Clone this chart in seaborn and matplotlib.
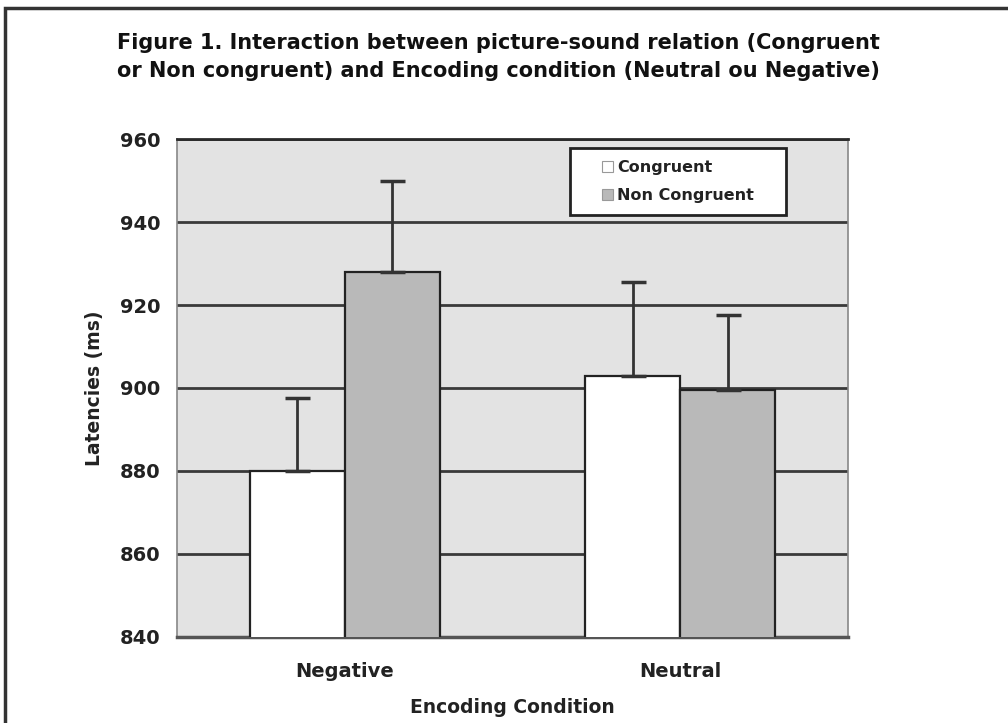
import matplotlib
matplotlib.use("Agg")
import matplotlib.pyplot as plt
import seaborn as sns
import pandas as pd
from matplotlib.patches import Rectangle

conditions = ["Negative", "Neutral"]
relations = ["Congruent", "Non Congruent"]
congruent_means = [880, 903]
noncongruent_means = [928, 899.5]
congruent_err = [17.5, 22.5]
noncongruent_err = [22, 18]

df = pd.DataFrame({
    "Encoding Condition": conditions * 2,
    "Relation": [relations[0]] * 2 + [relations[1]] * 2,
    "Latency": congruent_means + noncongruent_means,
    "Err": congruent_err + noncongruent_err,
})

sns.set_theme(style="white")
plt.rcParams["font.family"] = ["DejaVu Sans"]

fig = plt.figure(figsize=(10.08, 7.23), dpi=100)
ax = fig.add_axes([0.1756, 0.119, 0.6657, 0.6887])
ax.set_facecolor("#e3e3e3")

palette = {relations[0]: "#ffffff", relations[1]: "#b9b9b9"}
sns.barplot(data=df, x="Encoding Condition", y="Latency", hue="Relation",
            order=conditions, hue_order=relations, palette=palette,
            width=0.567, edgecolor="#222222", linewidth=1.6, errorbar=None,
            saturation=1, ax=ax, zorder=3, legend=False)

# error bars (upper only) from patch positions
for patch in ax.patches[:4]:
    x = patch.get_x() + patch.get_width() / 2
    h = patch.get_height()
    row = df[df["Latency"] == h].iloc[0]
    ax.errorbar(x, h, yerr=[[0], [row["Err"]]], fmt="none", ecolor="#333333",
                elinewidth=2, capsize=9, capthick=2.5, zorder=4)

ax.set_xlim(-0.5, 1.5)
ax.set_ylim(840, 960)
ax.set_yticks(range(840, 961, 20))
ax.yaxis.grid(True, color="#3a3a3a", linewidth=2)
ax.set_axisbelow(True)
ax.tick_params(axis="y", labelsize=14, pad=12, length=0)
ax.tick_params(axis="x", labelsize=14, pad=18, length=0)
for lab in ax.get_yticklabels() + ax.get_xticklabels():
    lab.set_fontweight("bold")
    lab.set_color("#222222")

for side in ["left", "right"]:
    ax.spines[side].set_color("#888888")
    ax.spines[side].set_linewidth(1.2)
ax.spines["top"].set_color("#2a2a2a")
ax.spines["top"].set_linewidth(2)
ax.spines["bottom"].set_color("#555555")
ax.spines["bottom"].set_linewidth(2.5)

ax.set_xticks([0.5], minor=True)
ax.tick_params(axis="x", which="minor", length=5, color="#888888", direction="out")

ax.set_ylabel("Latencies (ms)", fontsize=13.5, fontweight="bold", color="#222222", labelpad=11)
ax.set_xlabel("Encoding Condition", fontsize=13.5, fontweight="bold", color="#222222", labelpad=12)

# legend: box drawn separately, entries through the legend
box = Rectangle((0.586, 0.847), 0.3216, 0.135, transform=ax.transAxes,
                facecolor="white", edgecolor="#222222", linewidth=2, zorder=9)
ax.add_patch(box)
handles = [Rectangle((0, 0), 1, 1, facecolor=palette[r], edgecolor="#999999", linewidth=0.8)
           for r in relations]
leg = ax.legend(handles, relations, loc="center left", bbox_to_anchor=(0.633, 0.9145),
                fontsize=11.5, frameon=False,
                handlelength=0.7, handleheight=0.7, handletextpad=0.25,
                borderpad=0, labelspacing=0.8, borderaxespad=0)
for t in leg.get_texts():
    t.set_fontweight("bold")
    t.set_color("#222222")
leg.set_zorder(10)

fig.text(0.116, 0.955, "Figure 1. Interaction between picture-sound relation (Congruent\n"
         "or Non congruent) and Encoding condition (Neutral ou Negative)",
         fontsize=15, fontweight="bold", color="#111111", ha="left", va="top",
         linespacing=1.5)

# outer frame
fig.patches.append(Rectangle((0.005, -0.1), 1.2, 0.1 + 1 - 8 / 723, transform=fig.transFigure,
                             fill=False, edgecolor="#333333", linewidth=2.5))

fig.savefig("out.png", dpi=100, facecolor="white")
